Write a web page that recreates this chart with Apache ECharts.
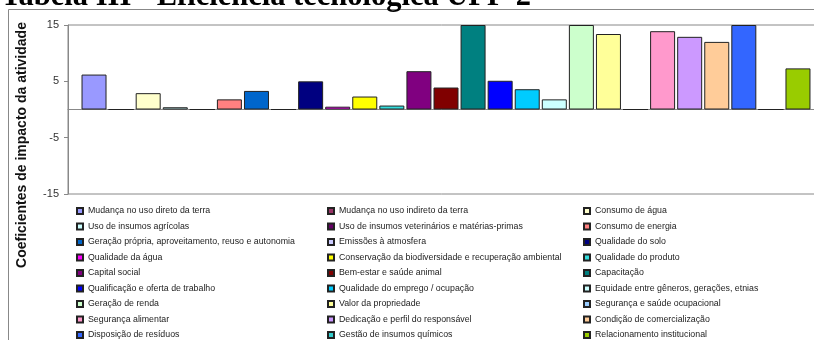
<!DOCTYPE html>
<html><head><meta charset="utf-8">
<script src="https://cdn.jsdelivr.net/npm/echarts@6/dist/echarts.min.js"></script>
<style>html,body{margin:0;padding:0;background:#fff}#c{width:814px;height:340px}</style>
</head><body><div id="c"></div>
<script>
const titleText = 'Tabela III - Eficiência tecnológica UPF-2';
const yAxisTitle = 'Coeficientes de impacto da atividade';
const categories = ['UPF-2'];
const seriesNames = [
  'Mudança no uso direto da terra',
  'Mudança no uso indireto da terra',
  'Consumo de água',
  'Uso de insumos agrícolas',
  'Uso de insumos veterinários e matérias-primas',
  'Consumo de energia',
  'Geração própria, aproveitamento, reuso e autonomia',
  'Emissões à atmosfera',
  'Qualidade do solo',
  'Qualidade da água',
  'Conservação da biodiversidade e recuperação ambiental',
  'Qualidade do produto',
  'Capital social',
  'Bem-estar e saúde animal',
  'Capacitação',
  'Qualificação e oferta de trabalho',
  'Qualidade do emprego / ocupação',
  'Equidade entre gêneros, gerações, etnias',
  'Geração de renda',
  'Valor da propriedade',
  'Segurança e saúde ocupacional',
  'Segurança alimentar',
  'Dedicação e perfil do responsável',
  'Condição de comercialização',
  'Disposição de resíduos',
  'Gestão de insumos químicos',
  'Relacionamento institucional'
];
const seriesValues = [6.2, 0, 2.9, 0.4, 0, 1.8, 3.3, 0, 5.0, 0.5, 2.3, 0.7, 6.8, 3.9, 15, 5.1, 3.6, 1.8, 15, 13.4, 0, 13.9, 12.9, 12.0, 15, 0, 7.3];
const seriesColors = ['#9999FF','#993366','#FFFFCC','#CCFFFF','#660066','#FF8080','#0066CC','#CCCCFF','#000080','#FF00FF','#FFFF00','#33DDDD','#800080','#800000','#008080','#0000FF','#00CCFF','#CCFFFF','#CCFFCC','#FFFF99','#99CCFF','#FF99CC','#CC99FF','#FFCC99','#3366FF','#33CCCC','#99CC00'];
const yMin = -15, yMax = 15, yInterval = 10;

const chart = echarts.init(document.getElementById('c'), null, {renderer:'canvas'});
const legendCols = [76, 327, 583];
const option = {
  animation: false,
  backgroundColor: '#fff',
  graphic: [
    {type:'rect', z:-1, shape:{x:8.5, y:9.5, width:900, height:400}, style:{fill:'#fff', stroke:'#888', lineWidth:1}},
    {type:'text', x:1, y:-3, z:10, style:{text:titleText, font:'bold 30.5px "Liberation Serif"', fill:'#000', verticalAlign:'middle'}},
    {type:'text', x:22, y:145, rotation:Math.PI/2, style:{text:yAxisTitle, font:'bold 14px "Liberation Sans"', fill:'#111', align:'center', verticalAlign:'middle'}}
  ],
  grid: {left:68, top:25, width:756, height:169, outerBoundsMode:'none', containLabel:false, show:true, borderColor:'#888', borderWidth:1, backgroundColor:'transparent'},
  xAxis: {type:'category', data:categories, axisLine:{onZero:true, lineStyle:{color:'#888'}}, axisTick:{show:false}, axisLabel:{show:false}, splitLine:{show:false}},
  yAxis: {type:'value', min:yMin, max:yMax, interval:yInterval,
    axisLine:{show:true, lineStyle:{color:'#888'}}, axisTick:{show:true, length:4, lineStyle:{color:'#888'}},
    axisLabel:{fontFamily:'Liberation Sans', fontSize:11, color:'#333', margin:9}, splitLine:{show:false}},
  legend: legendCols.map((x, c) => ({
    orient:'vertical', left:x, top:205, height:160, padding:0, selectedMode:false,
    data: seriesNames.filter((_, i) => i % 3 === c),
    icon:'rect', itemWidth:6, itemHeight:6, itemGap:3.5,
    textStyle:{fontFamily:'"Liberation Sans"', fontSize:8.8, color:'#222', lineHeight:12}
  })),
  series: seriesNames.map((name, i) => ({
    type:'bar', name, data:[seriesValues[i]], barWidth:25, barGap:'8.3%',
    itemStyle:{color:seriesColors[i], borderColor:'#222', borderWidth:1}
  }))
};
chart.setOption(option);
</script>
</body></html>
